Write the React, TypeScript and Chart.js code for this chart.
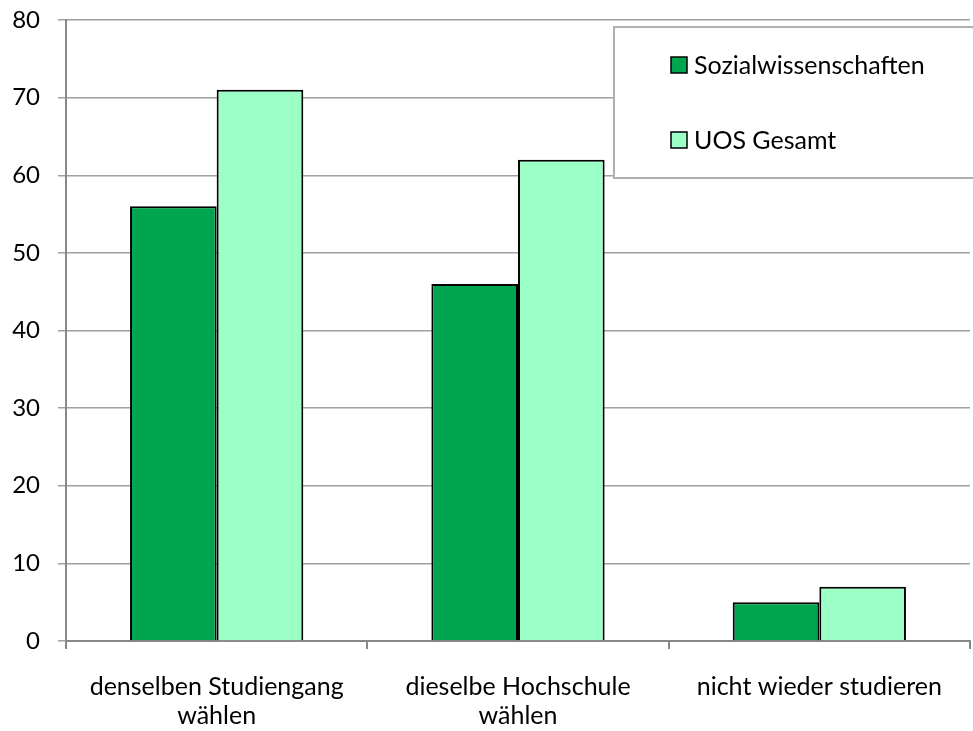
import React, { useEffect, useRef } from "react";
import { Chart, registerables } from "chart.js";

Chart.register(...registerables);

const categories: (string | string[])[] = [
  ["denselben Studiengang", "wählen"],
  ["dieselbe Hochschule", "wählen"],
  "nicht wieder studieren",
];
const sozialwissenschaften = [56, 46, 5];
const uosGesamt = [71, 62, 7];
const seriesNames = ["Sozialwissenschaften", "UOS Gesamt"];
const seriesColors = ["#00A64F", "#9CFFC6"];

const FONT = "Lato, 'Open Sans', sans-serif";

const legendBoxPlugin = {
  id: "legendBox",
  afterDraw(chart: any) {
    const ctx = chart.ctx;
    const ca = chart.chartArea;
    const x0 = ca.left + 548;
    const y0 = ca.top + 7;
    const w = 362;
    const h = 151;
    ctx.save();
    ctx.fillStyle = "#ffffff";
    ctx.fillRect(x0, y0, w, h);
    ctx.strokeStyle = "#B0B0B0";
    ctx.lineWidth = 2;
    ctx.strokeRect(x0, y0, w, h);
    ctx.font = `25px ${FONT}`;
    ctx.textBaseline = "middle";
    chart.data.datasets.forEach((ds: any, i: number) => {
      const cy = y0 + 38 + i * 75;
      ctx.fillStyle = ds.backgroundColor;
      ctx.fillRect(x0 + 57, cy - 8, 16, 16);
      ctx.strokeStyle = "#000";
      ctx.lineWidth = 1.5;
      ctx.strokeRect(x0 + 57, cy - 8, 16, 16);
      ctx.fillStyle = "#000";
      ctx.fillText(ds.label, x0 + 80, cy + 1);
    });
    ctx.restore();
  },
};

export default function App() {
  const ref = useRef<HTMLCanvasElement>(null);
  useEffect(() => {
    if (!ref.current) return;
    const chart = new Chart(ref.current, {
      type: "bar",
      data: {
        labels: categories,
        datasets: [
          {
            label: seriesNames[0],
            data: sozialwissenschaften,
            backgroundColor: seriesColors[0],
            borderColor: "#000",
            borderWidth: 2,
            borderSkipped: "bottom",
          },
          {
            label: seriesNames[1],
            data: uosGesamt,
            backgroundColor: seriesColors[1],
            borderColor: "#000",
            borderWidth: 2,
            borderSkipped: "bottom",
          },
        ],
      },
      options: {
        animation: false,
        responsive: false,
        maintainAspectRatio: false,
        categoryPercentage: 0.575,
        barPercentage: 1,
        layout: { padding: { top: 20, right: 3, left: 0, bottom: 0 } },
        plugins: {
          legend: { display: false },
          tooltip: { enabled: false },
        },
        scales: {
          x: {
            grid: {
              offset: true,
              drawOnChartArea: false,
              drawTicks: true,
              tickLength: 8,
              color: "#888888",
              lineWidth: 2,
            },
            border: { color: "#888888", width: 2 },
            ticks: {
              color: "#000",
              font: { family: FONT, size: 25, lineHeight: 1.16 },
              padding: 23,
              maxRotation: 0,
              autoSkip: false,
            },
            afterFit(scale: any) {
              scale.height = 90;
              scale.paddingLeft = 0;
              scale.paddingRight = 0;
            },
          },
          y: {
            min: 0,
            max: 80,
            ticks: {
              stepSize: 10,
              color: "#000",
              font: { family: FONT, size: 24 },
              padding: 18,
            },
            grid: {
              color: "#A0A0A0",
              lineWidth: 1.5,
              tickLength: 8,
              drawTicks: true,
            },
            border: { color: "#888888", width: 2 },
            afterFit(scale: any) {
              scale.width = 66;
              scale.paddingTop = 0;
              scale.paddingBottom = 0;
            },
          },
        },
      },
      plugins: [legendBoxPlugin],
    });
    return () => chart.destroy();
  }, []);
  return (
    <div style={{ position: "fixed", left: 0, top: 0, width: 973, height: 731, background: "#fff" }}>
      <canvas ref={ref} width={973} height={731} style={{ display: "block" }} />
    </div>
  );
}
